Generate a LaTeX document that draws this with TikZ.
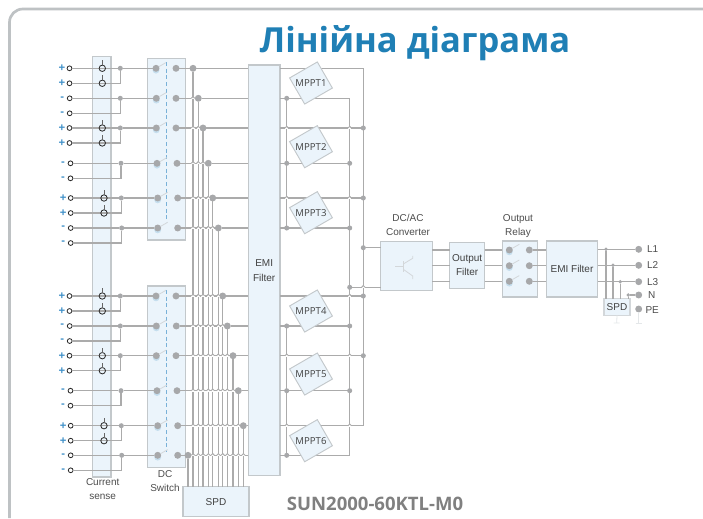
\documentclass[tikz,border=0pt]{standalone}
\usepackage{fontspec}
\setmainfont{Liberation Sans}
\newfontfamily\opensans{Open Sans}
\usetikzlibrary{calc}

\definecolor{boxfill}{HTML}{EBF4FB}
\definecolor{boxline}{HTML}{C3C8CB}
\definecolor{wirecol}{HTML}{ABABAB}
\definecolor{dotcol}{HTML}{A7A8AA}
\definecolor{signcol}{HTML}{3F90C8}
\definecolor{titlecol}{HTML}{1F7FB5}
\definecolor{paler}{HTML}{D3D7DA}

\tikzset{
    wire/.style={draw=wirecol,line width=0.85pt},
    boxed/.style 2 args={draw=boxline,fill=boxfill,line width=1.1pt,minimum width=#1*0.75pt,minimum height=#2*0.75pt,align=center,text=black!75,font=\fontsize{7.5}{10.5}\selectfont},
    lbl/.style={align=center,font=\fontsize{7.5}{10.5}\selectfont,text=black!70},
    term/.style={circle,draw=black!85,fill=white,line width=0.6pt,minimum size=3.6pt},
    sense/.style={circle,draw=black!85,line width=0.6pt,minimum size=4.8pt},
    jn/.style={circle,fill=dotcol,minimum size=3.8pt},
    bigdot/.style={circle,fill=dotcol,minimum size=5.2pt},
    smalldot/.style={circle,fill=dotcol,minimum size=2.8pt},
    sign/.style={font=\fontsize{8.5}{9}\selectfont\bfseries,text=signcol},
    mppt/.style={draw=boxline,fill=boxfill,line width=0.7pt,minimum width=24pt,minimum height=22.6pt,rotate=30},
    mpptlbl/.style={font=\opensans\fontsize{7.2}{9}\selectfont,text=black!75},
}

\newcommand{\hop}[1]{%
    \draw[white,line width=1.3pt] ($(#1)+(-1.7,0)$) -- ++(3.4,0);
    \draw[wire,line width=0.7pt] ($(#1)+(-1.7,0)$) arc (180:360:1.7);
}

\begin{document}
\begin{tikzpicture}[x=0.75pt,y=-0.75pt,every node/.style={inner sep=0,outer sep=0}]

    \useasboundingbox (0,0) rectangle (703,518);
    \draw[paler!90!black,line width=2pt,rounded corners=10pt] (9.5,518) -- (9.5,9) -- (703,9);

    \node[font=\opensans\bfseries\fontsize{25.9}{30}\selectfont,text=titlecol] (title) at (415,43) {Лінійна діаграма};
    \node[font=\opensans\bfseries\fontsize{13.9}{16}\selectfont,text=black!50] (model) at (375,503.5) {SUN2000-60KTL-M0};

    % boxes
    \node[boxed={18.3}{420.3}] (band) at (101.8,266.9) {};
    \node[boxed={38.4}{181.7}] (sw1) at (166.5,149.2) {};
    \node[boxed={38.4}{181.3}] (sw2) at (166.5,376.7) {};
    \node[boxed={66}{30}] (spd) at (216,501.7) {SPD};
    \node[boxed={31.7}{410.7}] (emi) at (264.2,270.4) {EMI\\[1pt]Filter};
    \node[boxed={51.6}{48.6}] (conv) at (406.5,266) {};
    \node[boxed={35}{46}] (ofilt) at (467.2,265.3) {Output\\Filter};
    \node[boxed={35.4}{56}] (orelay) at (520,269) {};
    \node[boxed={51.4}{56}] (emitwo) at (572,269) {EMI Filter};

    \node[lbl] (senselbl) at (102.7,489.5) {Current\\sense};
    \node[lbl] (swlbl) at (165,481) {DC\\Switch};
    \node[lbl] (convlbl) at (408,225) {DC/AC\\Converter};
    \node[lbl] (relaylbl) at (518,226.5) {Output\\Relay};

    % switch ganging
    \draw[signcol!70,densely dashed,line width=0.5pt] (166.7,62) -- (166.7,222);
    \draw[signcol!70,densely dashed,line width=0.5pt] (166.7,290) -- (166.7,452);

    % input rows
    \foreach \n/\ya/\yb/\sg/\tx/\jx/\lx/\rx/\bx in {
        1/68.3/83.3/+/69.5/120.3/156/176/193,
        2/98.3/113.3/-/69.7/120.3/156.3/176/198.3,
        3/128/143/+/69.5/120.3/156.3/176/203,
        4/163.3/178.3/-/70.5/121/157/177/208.3,
        5/198/213/+/70.7/121.3/157.7/177.7/212.7,
        6/228/243/-/70.7/121.7/157.7/177.7/218.3,
        7/296/311/+/69.5/120.3/156/176/222.7,
        8/326/341/-/69.7/120.3/156.3/176.3/227.3,
        9/355.7/370.7/+/69.5/120.3/156.3/176/233,
        10/390.7/405.7/-/70.5/121/157/177/238.3,
        11/425.7/440.7/+/70.7/121.3/157.7/177.7/243.3,
        12/455.3/470.3/-/70.7/121.7/157.7/177.7/188}{
        \node[term] (ta\n) at (\tx,\ya) {};
        \node[term] (tb\n) at (\tx,\yb) {};
        \node[sign] (sa\n) at (\tx-7.5,\ya) {\sg};
        \node[sign] (sb\n) at (\tx-7.5,\yb) {\sg};
        \node[jn] (j\n) at (\jx,\ya) {};
        \node[bigdot,fill=signcol!30] (g\n) at (\lx,\ya+1.8) {};
        \node[bigdot] (l\n) at (\lx,\ya) {};
        \node[bigdot] (r\n) at (\rx,\ya) {};
        \node[bigdot] (b\n) at (\bx,\ya) {};
        \draw[wire] (ta\n) -- (j\n) -- (l\n);
        \draw[wire] (tb\n) -| (j\n);
        \draw[paler,line width=0.6pt] (l\n) -- ++(10,-5.7);
        \draw[wire] (r\n) -- (b\n);
        \draw[wire] (b\n) -- (emi.west |- b\n);
        \draw[wire] (b\n) -- (b\n |- spd.north);
    }

    % current sensors
    \foreach \n/\sx/\ya/\yb in {1/102.3/68.3/83.3,3/102.3/128/143,5/104/198/213,7/102.3/296/311,9/102.3/355.7/370.7,11/104/425.7/440.7}{
        \node[sense] (ca\n) at (\sx,\ya) {};
        \node[sense] (cb\n) at (\sx,\yb) {};
        \draw[black!60,line width=0.5pt] (ca\n.north) -- ++(0,-5);
        \draw[black!60,line width=0.5pt] (cb\n.north) -- ++(0,-5);
    }

    % wire hops over the SPD bus
    \foreach \n in {2,...,12}{
        \foreach \m in {1,...,11}{
            \ifnum\m<\n\relax
                \hop{b\m |- b\n}
            \fi
        }
    }

    % rails behind the MPPTs
    \coordinate (raila) at (286.7,0);
    \coordinate (railb) at (349.7,0);
    \coordinate (railc) at (363.3,0);

    \draw[wire] (raila |- b2) -- (raila |- b6);
    \draw[wire] (raila |- b8) -- (raila |- b12);
    \draw[wire] (railb |- b2) -- (railb |- b12);
    \draw[wire] (railc |- b1) -- (railc |- b11);

    \foreach \n in {1,3,5,7,9,11}{
        \draw[wire] (emi.east |- b\n) -- (railc |- b\n);
    }
    \foreach \n in {2,4,6,8,10,12}{
        \draw[wire] (emi.east |- b\n) -- (railb |- b\n);
        \node[jn] (pa\n) at (raila |- b\n) {};
    }
    \foreach \n in {3,5,7,9}{
        \node[jn] (pc\n) at (railc |- b\n) {};
    }
    \foreach \n in {4,6,8,10}{
        \node[jn] (pb\n) at (railb |- b\n) {};
    }
    \foreach \n in {3,5,7,9,11}{
        \hop{railb |- b\n}
    }
    \foreach \n in {3,5,9,11}{
        \hop{raila |- b\n}
    }

    % to the converter
    \node[jn] (cvp) at (363.3,247.7) {};
    \node[jn] (cvn) at (349.7,287.3) {};
    \draw[wire] (cvp) -- (conv.west |- cvp);
    \draw[wire] (cvn) -- (conv.west |- cvn);
    \hop{railc |- cvn}

    \foreach \n/\y in {1/83,2/146.7,3/212.7,4/311,5/374,6/440.7}{
        \node[mppt] (mb\n) at (311,\y) {};
        \node[mpptlbl] (m\n) at (mb\n) {MPPT\n};
    }

    % transistor glyph
    \draw[paler,line width=0.6pt] ($(conv)+(-11.5,0.7)$) -- ++(8.3,0) ++(0,-5.7) -- ++(0,11.4);
    \draw[paler,line width=0.6pt] ($(conv)+(-3.2,-2)$) -- ++(9.4,-5.7) -- ++(0,-2.5);
    \draw[paler,line width=0.6pt] ($(conv)+(-3.2,3.3)$) -- ++(9.4,6.7) -- ++(0,3);

    % output stage
    \foreach \n/\ya/\yb/\lbl in {1/250/249.3/L1,2/265.7/265.3/L2,3/281.3/281.7/L3}{
        \node[bigdot,fill=signcol!30] (rg\n) at (509.3,\ya+1.8) {};
        \node[bigdot] (rl\n) at (509.3,\ya) {};
        \node[bigdot] (rr\n) at (529.3,\ya) {};
        \draw[paler,line width=0.6pt] (rl\n) -- ++(10,-5.7);
        \draw[wire] (conv.east |- rl\n) -- (ofilt.west |- rl\n);
        \draw[wire] (ofilt.east |- rl\n) -- (orelay.west |- rl\n);
        \draw[wire] (rr\n) -- (emitwo.west |- rr\n);
        \node[bigdot] (o\n) at (638.7,\yb) {};
        \draw[wire] (emitwo.east |- o\n) -- (o\n);
        \node[lbl,anchor=west] (ol\n) at (647,\yb) {\lbl};
    }
    \node[bigdot] (on) at (638.7,295) {};
    \node[lbl,anchor=west] (onl) at (648,295) {N};
    \node[bigdot] (ope) at (638.7,309) {};
    \node[lbl,anchor=west] (opel) at (645.5,310) {PE};

    \node[boxed={26}{16.6},draw=paler,line width=0.8pt] (spdtwo) at (617,307) {SPD};
    \node[smalldot] (k1) at (606,249.3) {};
    \node[smalldot] (k2) at (613,265.3) {};
    \node[smalldot] (k3) at (620.3,281.7) {};
    \node[smalldot] (k4) at (628.3,295) {};
    \foreach \n in {1,...,4}{
        \draw[wire] (k\n) -- (k\n |- spdtwo.north);
    }
    \draw[wire] (k4) -- (on);

    \coordinate (gnda) at (616.7,323);
    \coordinate (gndb) at (638.7,323);
    \draw[paler!60,line width=0.6pt] (spdtwo.south) -- (gnda) ++(-3,0) -- ++(6,0);
    \draw[paler!60,line width=0.6pt] (ope) -- (gndb) ++(-3,0) -- ++(6,0);

\end{tikzpicture}
\end{document}
